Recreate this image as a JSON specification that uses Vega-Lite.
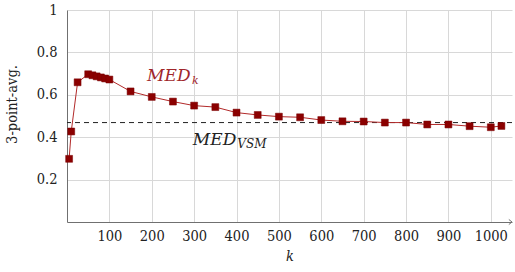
{
  "$schema": "https://vega.github.io/schema/vega-lite/v6.json",
  "width": 445,
  "height": 212,
  "autosize": "none",
  "padding": {"left": 67, "top": 10, "right": 3, "bottom": 50},
  "background": "white",
  "config": {
    "view": {"stroke": null},
    "font": "DejaVu Serif Condensed",
    "axis": {
      "labelFont": "DejaVu Serif Condensed",
      "titleFont": "DejaVu Serif Condensed",
      "labelColor": "#222",
      "titleColor": "#222",
      "labelFontSize": 14.5,
      "titleFontSize": 14.5,
      "titleFontWeight": "normal",
      "gridColor": "#d8d8d8",
      "gridWidth": 1,
      "domainColor": "#707070",
      "ticks": false
    }
  },
  "datasets": {
    "series": [
      {"k": 5, "v": 0.298},
      {"k": 10, "v": 0.427},
      {"k": 25, "v": 0.659},
      {"k": 50, "v": 0.697},
      {"k": 60, "v": 0.692},
      {"k": 70, "v": 0.687},
      {"k": 80, "v": 0.682},
      {"k": 90, "v": 0.677},
      {"k": 100, "v": 0.672},
      {"k": 150, "v": 0.616},
      {"k": 200, "v": 0.59},
      {"k": 250, "v": 0.568},
      {"k": 300, "v": 0.549},
      {"k": 350, "v": 0.542},
      {"k": 400, "v": 0.516},
      {"k": 450, "v": 0.505},
      {"k": 500, "v": 0.497},
      {"k": 550, "v": 0.494},
      {"k": 600, "v": 0.481},
      {"k": 650, "v": 0.475},
      {"k": 700, "v": 0.474},
      {"k": 750, "v": 0.469},
      {"k": 800, "v": 0.469},
      {"k": 850, "v": 0.46},
      {"k": 900, "v": 0.46},
      {"k": 950, "v": 0.452},
      {"k": 1000, "v": 0.447},
      {"k": 1025, "v": 0.453}
    ]
  },
  "layer": [
    {
      "data": {"values": [{"k": 0, "v": 0}]},
      "mark": {"type": "point", "opacity": 0},
      "encoding": {
        "x": {
          "field": "k", "type": "quantitative",
          "scale": {"domain": [0, 1050], "nice": false, "zero": false},
          "axis": {
            "values": [100, 200, 300, 400, 500, 600, 700, 800, 900, 1000],
            "format": "d",
            "title": "k",
            "titleFontStyle": "italic",
            "labelPadding": 7,
            "titlePadding": 7,
            "grid": true
          }
        },
        "y": {
          "field": "v", "type": "quantitative",
          "scale": {"domain": [0, 1], "nice": false},
          "axis": {
            "values": [0.2, 0.4, 0.6, 0.8, 1],
            "format": "~g",
            "title": "3-point-avg.",
            "labelPadding": 10,
            "titleAngle": -90,
            "titleAlign": "center",
            "titleBaseline": "middle",
            "titleX": -55,
            "titleY": 94,
            "grid": true
          }
        }
      }
    },
    {
      "data": {"values": [{"y": 0.469}]},
      "mark": {"type": "rule", "color": "#222", "strokeWidth": 1, "strokeDash": [5, 4]},
      "encoding": {"y": {"field": "y", "type": "quantitative"}}
    },
    {
      "data": {"name": "series"},
      "mark": {"type": "line", "color": "#b22a2a", "strokeWidth": 1},
      "encoding": {
        "x": {"field": "k", "type": "quantitative"},
        "y": {"field": "v", "type": "quantitative"}
      }
    },
    {
      "data": {"name": "series"},
      "mark": {"type": "point", "shape": "square", "filled": true, "size": 48, "color": "#8b0000", "opacity": 1, "stroke": "#7a0000", "strokeWidth": 0.5},
      "encoding": {
        "x": {"field": "k", "type": "quantitative"},
        "y": {"field": "v", "type": "quantitative"}
      }
    },
    {
      "data": {"values": [{"k": 1050, "v": 0}]},
      "mark": {"type": "point", "shape": "M-1,-0.8L0,0L-1,0.8", "filled": false, "size": 40, "color": "#707070", "strokeWidth": 1, "opacity": 1},
      "encoding": {
        "x": {"field": "k", "type": "quantitative"},
        "y": {"field": "v", "type": "quantitative"}
      }
    },
    {
      "data": {"values": [{"k": 189, "v": 0.666, "t": "MED"}]},
      "mark": {"type": "text", "align": "left", "baseline": "alphabetic", "font": "DejaVu Serif", "fontStyle": "italic", "fontSize": 17, "color": "#a0262a"},
      "encoding": {
        "x": {"field": "k", "type": "quantitative"},
        "y": {"field": "v", "type": "quantitative"},
        "text": {"field": "t"}
      }
    },
    {
      "data": {"values": [{"k": 295, "v": 0.652, "t": "k"}]},
      "mark": {"type": "text", "align": "left", "baseline": "alphabetic", "font": "DejaVu Serif", "fontStyle": "italic", "fontSize": 11, "color": "#a0262a"},
      "encoding": {
        "x": {"field": "k", "type": "quantitative"},
        "y": {"field": "v", "type": "quantitative"},
        "text": {"field": "t"}
      }
    },
    {
      "data": {"values": [{"k": 297, "v": 0.363, "t": "MED"}]},
      "mark": {"type": "text", "align": "left", "baseline": "alphabetic", "font": "DejaVu Serif", "fontStyle": "italic", "fontSize": 17, "color": "#222"},
      "encoding": {
        "x": {"field": "k", "type": "quantitative"},
        "y": {"field": "v", "type": "quantitative"},
        "text": {"field": "t"}
      }
    },
    {
      "data": {"values": [{"k": 402, "v": 0.349, "t": "VSM"}]},
      "mark": {"type": "text", "align": "left", "baseline": "alphabetic", "font": "DejaVu Serif", "fontStyle": "italic", "fontSize": 12, "color": "#222"},
      "encoding": {
        "x": {"field": "k", "type": "quantitative"},
        "y": {"field": "v", "type": "quantitative"},
        "text": {"field": "t"}
      }
    }
  ]
}
